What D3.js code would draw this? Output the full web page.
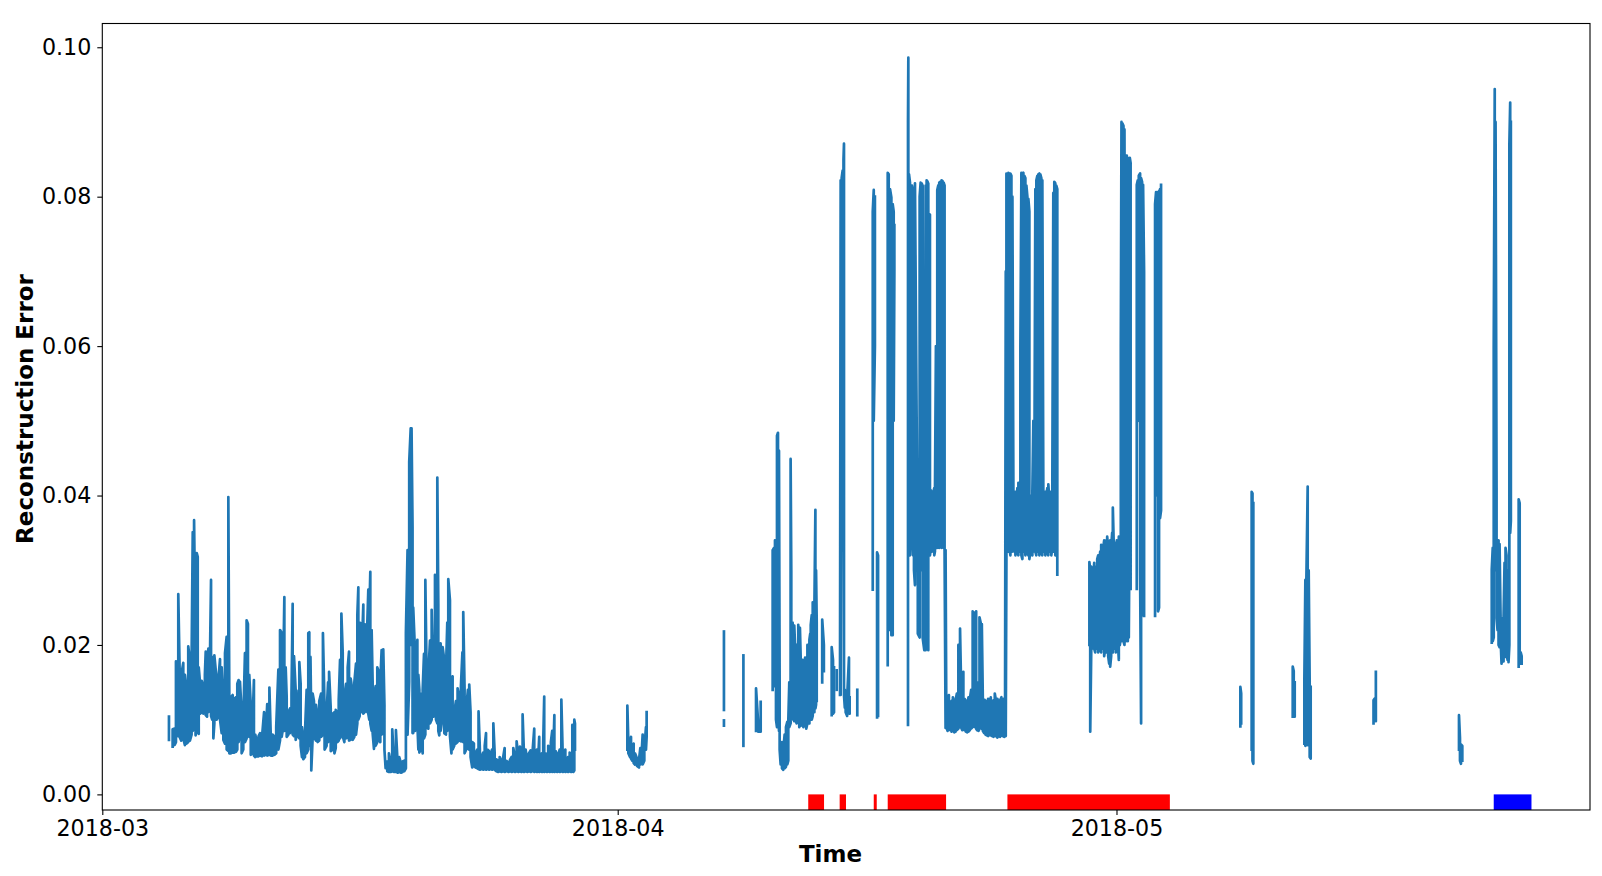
<!DOCTYPE html>
<html>
<head>
<meta charset="utf-8">
<script src="https://cdn.jsdelivr.net/npm/d3@7"></script>
<style>
  html, body { margin: 0; padding: 0; background: #ffffff; }
  svg { display: block; }
  text { font-family: "DejaVu Sans", sans-serif; fill: #000; }
</style>
</head>
<body>
<svg id="chart" width="1602" height="876"></svg>
<script>
// ---------------- DATA ----------------
// time axis: days since 2018-03-01 00:00 UTC
const startDate = Date.UTC(2018, 2, 1);
const xDomainDays = [0, 89.48];
const yDomain = [-0.00209, 0.10318];
const yTickValues = [0.00, 0.02, 0.04, 0.06, 0.08, 0.10];
const xTickDates = ["2018-03-01", "2018-04-01", "2018-05-01"];
const xTickLabels = ["2018-03", "2018-04", "2018-05"];

// reconstruction error, dense signal given as [day, min, max] per time bin
const segMarchA = [[4.01, .0073, .0104]];
const segMarchB = [
 [4.23,.0064,.0087],[4.35,.0066,.0088],[4.43,.0070,.0178],[4.50,.0080,.0150],[4.57,.0078,.0268],
 [4.65,.0077,.0168],[4.75,.0072,.0160],[4.87,.0075,.0176],[4.97,.0066,.0160],[5.07,.0068,.0140],
 [5.17,.0070,.0198],[5.27,.0072,.0180],[5.37,.0080,.0179],[5.44,.0085,.0351],[5.52,.0090,.0367],
 [5.61,.0079,.0200],[5.68,.0085,.0323],[5.74,.0088,.0318],[5.80,.0081,.0170],[5.88,.0108,.0149],
 [5.98,.0110,.0152],[6.08,.0108,.0145],[6.17,.0112,.0160],[6.22,.0106,.0191],[6.30,.0104,.0170],
 [6.38,.0110,.0195],[6.46,.0112,.0158],[6.54,.0105,.0287],[6.61,.0100,.0184],[6.68,.0075,.0150],
 [6.74,.0095,.0186],[6.88,.0100,.0153],[6.98,.0105,.0153],[7.08,.0100,.0181],[7.18,.0082,.0170],
 [7.28,.0073,.0126],[7.38,.0068,.0189],[7.48,.0060,.0211],[7.58,.0058,.0398],[7.64,.0055,.0130],
 [7.74,.0055,.0130],[7.84,.0056,.0133],[7.94,.0056,.0128],[8.04,.0057,.0130],[8.12,.0060,.0148],
 [8.20,.0070,.0153],[8.28,.0080,.0151],[8.38,.0055,.0110],[8.48,.0060,.0099],[8.58,.0070,.0189],
 [8.68,.0075,.0233],[8.76,.0078,.0228],[8.84,.0077,.0160],[8.93,.0053,.0120],[9.02,.0055,.0082],
 [9.12,.0052,.0153],[9.20,.0050,.0080],[9.30,.0051,.0070],[9.40,.0051,.0078],[9.49,.0052,.0082],
 [9.60,.0051,.0075],[9.73,.0052,.0110],[9.82,.0053,.0077],[9.92,.0052,.0121],[10.05,.0053,.0143],
 [10.14,.0052,.0073],[10.25,.0052,.0080],[10.36,.0053,.0077],[10.46,.0055,.0090],[10.59,.0060,.0167],
 [10.69,.0072,.0220],[10.79,.0077,.0216],[10.88,.0090,.0160],[10.95,.0085,.0264],[11.03,.0090,.0170],
 [11.09,.0077,.0130],[11.19,.0080,.0110],[11.29,.0082,.0115],[11.38,.0085,.0135],[11.45,.0080,.0255],
 [11.53,.0078,.0185],[11.63,.0073,.0140],[11.72,.0080,.0105],[11.80,.0078,.0139],[11.85,.0075,.0177],
 [11.93,.0065,.0148],[12.01,.0050,.0090],[12.09,.0047,.0072],[12.19,.0050,.0082],[12.29,.0055,.0140],
 [12.39,.0060,.0216],[12.45,.0065,.0217],[12.52,.0070,.0184],[12.57,.0032,.0100],[12.65,.0075,.0135],
 [12.73,.0077,.0125],[12.85,.0072,.0120],[12.95,.0070,.0105],[13.05,.0072,.0125],[13.16,.0077,.0135],
 [13.27,.0080,.0216],[13.37,.0060,.0115],[13.49,.0065,.0108],[13.58,.0070,.0150],[13.64,.0072,.0164],
 [13.74,.0058,.0115],[13.86,.0060,.0108],[13.96,.0055,.0110],[14.04,.0062,.0113],[14.14,.0070,.0110],
 [14.22,.0072,.0126],[14.30,.0075,.0180],[14.38,.0080,.0242],[14.46,.0078,.0190],[14.56,.0070,.0130],
 [14.66,.0075,.0148],[14.76,.0076,.0170],[14.84,.0072,.0191],[14.94,.0073,.0155],[15.06,.0073,.0137],
 [15.16,.0077,.0150],[15.26,.0080,.0175],[15.34,.0095,.0240],[15.40,.0100,.0277],[15.48,.0105,.0230],
 [15.54,.0113,.0229],[15.62,.0110,.0200],[15.70,.0108,.0254],[15.78,.0110,.0228],[15.86,.0112,.0210],
 [15.94,.0110,.0230],[16.00,.0108,.0274],[16.06,.0100,.0240],[16.12,.0095,.0298],[16.20,.0085,.0220],
 [16.26,.0082,.0150],[16.34,.0061,.0130],[16.44,.0065,.0145],[16.54,.0070,.0170],[16.62,.0075,.0165],
 [16.72,.0070,.0150],[16.80,.0080,.0193],[16.90,.0082,.0194],[16.97,.0060,.0120],[17.04,.0035,.0044],
 [17.14,.0031,.0044],[17.24,.0030,.0055],[17.34,.0030,.0043],[17.44,.0031,.0087],[17.54,.0030,.0045],
 [17.66,.0030,.0086],[17.76,.0029,.0043],[17.86,.0030,.0050],[17.96,.0029,.0042],[18.06,.0030,.0044],
 [18.16,.0031,.0045],[18.26,.0035,.0216],[18.36,.0080,.0327],[18.46,.0150,.0445],[18.55,.0200,.0490],
 [18.60,.0210,.0490],[18.66,.0082,.0358],[18.70,.0082,.0250],[18.81,.0085,.0190],[18.88,.0090,.0180],
 [18.95,.0095,.0207],[19.01,.0060,.0160],[19.07,.0056,.0140],[19.15,.0060,.0115],[19.21,.0065,.0135],
 [19.27,.0055,.0140],[19.35,.0075,.0188],[19.43,.0080,.0287],[19.51,.0090,.0155],[19.61,.0088,.0160],
 [19.71,.0095,.0206],[19.81,.0100,.0247],[19.91,.0104,.0153],[20.01,.0110,.0294],[20.07,.0100,.0140],
 [20.15,.0095,.0424],[20.21,.0085,.0255],[20.27,.0079,.0180],[20.35,.0085,.0202],[20.47,.0104,.0197],
 [20.57,.0082,.0180],[20.67,.0080,.0165],[20.75,.0085,.0230],[20.81,.0090,.0288],[20.91,.0078,.0260],
 [21.00,.0055,.0150],[21.07,.0060,.0158],[21.17,.0065,.0110],[21.27,.0068,.0125],[21.37,.0070,.0142],
 [21.47,.0072,.0130],[21.57,.0071,.0145],[21.66,.0072,.0190],[21.71,.0070,.0244],[21.79,.0055,.0140],
 [21.89,.0060,.0115],[21.99,.0062,.0140],[22.07,.0060,.0147],[22.15,.0050,.0110],[22.25,.0036,.0070],
 [22.35,.0038,.0068],[22.45,.0036,.0055],[22.55,.0035,.0060],[22.63,.0034,.0111],[22.71,.0033,.0060],
 [22.81,.0034,.0050],[22.91,.0033,.0056],[23.00,.0034,.0065],[23.08,.0033,.0082],[23.16,.0034,.0060],
 [23.26,.0033,.0058],[23.36,.0034,.0050],[23.44,.0033,.0060],[23.52,.0034,.0095],[23.60,.0033,.0055],
 [23.70,.0031,.0047],[23.80,.0030,.0045],[23.90,.0031,.0050],[24.00,.0030,.0044],[24.10,.0031,.0048],
 [24.20,.0030,.0062],[24.30,.0031,.0045],[24.42,.0030,.0043],[24.52,.0031,.0046],[24.62,.0030,.0050],
 [24.72,.0031,.0062],[24.82,.0030,.0050],[24.92,.0031,.0071],[25.02,.0030,.0052],[25.12,.0031,.0064],
 [25.20,.0030,.0050],[25.28,.0031,.0107],[25.36,.0030,.0055],[25.46,.0031,.0060],[25.56,.0030,.0045],
 [25.66,.0031,.0055],[25.76,.0030,.0059],[25.86,.0031,.0052],[25.98,.0030,.0088],[26.06,.0031,.0055],
 [26.14,.0030,.0060],[26.22,.0031,.0050],[26.28,.0030,.0077],[26.36,.0031,.0052],[26.44,.0030,.0055],
 [26.52,.0031,.0070],[26.58,.0030,.0131],[26.66,.0031,.0055],[26.74,.0030,.0052],[26.82,.0031,.0065],
 [26.90,.0030,.0060],[26.98,.0031,.0070],[27.06,.0030,.0085],[27.13,.0031,.0060],[27.19,.0030,.0106],
 [27.27,.0031,.0058],[27.35,.0030,.0052],[27.43,.0031,.0054],[27.51,.0030,.0060],[27.61,.0031,.0127],
 [27.69,.0030,.0055],[27.77,.0031,.0050],[27.85,.0030,.0060],[27.93,.0031,.0044],[28.01,.0030,.0050],
 [28.11,.0031,.0056],[28.19,.0030,.0050],[28.27,.0031,.0093],[28.33,.0030,.0050],[28.39,.0032,.0100],
 [28.43,.0060,.0095]
];
const segAprilA = [
 [31.58,.0060,.0119],[31.64,.0055,.0070],[31.74,.0050,.0062],[31.80,.0048,.0077],[31.88,.0045,.0058],
 [31.96,.0042,.0068],[32.04,.0040,.0055],[32.16,.0038,.0048],[32.28,.0036,.0046],[32.36,.0040,.0062],
 [32.44,.0042,.0055],[32.50,.0040,.0080],[32.60,.0045,.0060],[32.70,.0060,.0090],[32.74,.0077,.0110]
];
const segAprilB = [[37.39, .0113, .0218]];
const segAprilC = [[37.39, .0092, .0099]];
const segAprilD = [[38.56, .0065, .0186]];
const segAprilE = [[39.32,.0085,.0142],[39.45,.0084,.0095],[39.60,.0084,.0124]];
const segAprilF = [
 [40.32,.0140,.0327],[40.40,.0145,.0330],[40.46,.0160,.0340],[40.52,.0100,.0300],[40.58,.0090,.0480],
 [40.64,.0150,.0484],[40.70,.0085,.0460],[40.74,.0060,.0150],[40.80,.0040,.0060],[40.88,.0035,.0070],
 [40.96,.0033,.0060],[41.04,.0035,.0080],[41.12,.0037,.0090],[41.20,.0040,.0097],[41.26,.0045,.0098],
 [41.32,.0090,.0150],[41.40,.0095,.0449],[41.44,.0100,.0300],[41.52,.0105,.0230],[41.58,.0100,.0200],
 [41.62,.0098,.0226],[41.70,.0100,.0180],[41.76,.0095,.0200],[41.82,.0100,.0160],[41.86,.0098,.0227],
 [41.92,.0090,.0190],[41.96,.0095,.0223],[42.02,.0092,.0170],[42.06,.0100,.0146],[42.12,.0095,.0180],
 [42.17,.0090,.0166],[42.22,.0094,.0175],[42.27,.0092,.0183],[42.34,.0088,.0170],[42.41,.0095,.0200],
 [42.47,.0098,.0185],[42.53,.0095,.0207],[42.58,.0100,.0215],[42.61,.0105,.0227],[42.67,.0100,.0240],
 [42.73,.0105,.0257],[42.78,.0110,.0250],[42.83,.0110,.0250],[42.89,.0115,.0381],[42.93,.0120,.0300],
 [42.97,.0125,.0230]
];
const segAprilG = [[43.30,.0150,.0234],[43.40,.0165,.0200]];
const segAprilH = [[43.87,.0106,.0197],[43.95,.0108,.0180],[44.01,.0110,.0170]];
const segAprilI = [[44.17,.0140,.0166]];
const segAprilJ = [
 [44.37,.0133,.0140],[44.41,.0133,.0822],[44.47,.0450,.0825],[44.53,.0400,.0835],[44.58,.0450,.0850],
 [44.61,.0133,.0871],[44.66,.0116,.0140],[44.71,.0110,.0125],[44.80,.0105,.0130],[44.91,.0110,.0183],
 [44.95,.0108,.0130]
];
const segAprilK = [[45.41,.0106,.0140]];
const segAprilL = [[46.34,.0274,.0780],[46.40,.0500,.0809],[46.47,.0600,.0800]];
const segAprilM = [[46.60,.0103,.0324],[46.66,.0105,.0320]];
const segAprilN = [
 [47.24,.0173,.0832],[47.30,.0400,.0830],[47.38,.0220,.0810],[47.46,.0213,.0799],[47.54,.0213,.0790],
 [47.60,.0500,.0780],[47.64,.0700,.0762]
];
const segAprilO = [
 [48.46,.0093,.0900],[48.48,.0500,.0986],[48.52,.0320,.0830],[48.58,.0320,.0819],[48.64,.0350,.0815],
 [48.70,.0550,.0815],[48.76,.0320,.0812],[48.82,.0300,.0810],[48.88,.0280,.0818],[49.05,.0215,.0280],
 [49.16,.0210,.0800],[49.22,.0300,.0819],[49.28,.0350,.0818],[49.34,.0210,.0815],[49.44,.0193,.0250],
 [49.52,.0193,.0815],[49.58,.0300,.0822],[49.64,.0350,.0820],[49.68,.0193,.0818],
 [49.70,.0320,.0400],[49.74,.0330,.0600],[49.78,.0320,.0776],[49.84,.0330,.0407],[49.90,.0325,.0395],
 [49.98,.0330,.0404],[50.04,.0320,.0410],[50.08,.0325,.0398],[50.14,.0330,.0600],[50.22,.0330,.0809],
 [50.28,.0340,.0815],[50.34,.0330,.0819],[50.40,.0335,.0820],[50.48,.0330,.0822],[50.54,.0340,.0821],
 [50.60,.0330,.0819],[50.66,.0325,.0815],[50.72,.0089,.0327],
 [50.76,.0090,.0130],[50.84,.0085,.0128],[50.92,.0088,.0133],[51.00,.0086,.0120],[51.08,.0084,.0125],
 [51.16,.0085,.0130],[51.24,.0083,.0118],[51.32,.0084,.0126],[51.40,.0086,.0135],[51.49,.0088,.0200],
 [51.55,.0090,.0180],[51.59,.0092,.0222],[51.65,.0090,.0150],[51.72,.0086,.0130],[51.79,.0088,.0164],
 [51.86,.0086,.0128],[51.94,.0084,.0125],[52.02,.0083,.0120],[52.10,.0084,.0130],[52.18,.0086,.0128],
 [52.26,.0088,.0140],[52.35,.0090,.0245],[52.43,.0092,.0243],[52.50,.0090,.0180],[52.56,.0088,.0245],
 [52.62,.0086,.0150],[52.70,.0085,.0140],[52.76,.0088,.0237],[52.83,.0090,.0230],[52.90,.0088,.0228],
 [52.96,.0085,.0130],[53.04,.0082,.0127],[53.12,.0080,.0125],[53.20,.0079,.0120],[53.28,.0078,.0128],
 [53.36,.0080,.0122],[53.44,.0079,.0130],[53.52,.0078,.0118],[53.60,.0077,.0126],[53.68,.0079,.0135],
 [53.76,.0078,.0124],[53.84,.0076,.0128],[53.92,.0078,.0120],[54.00,.0077,.0126],[54.08,.0079,.0130],
 [54.16,.0078,.0122],[54.24,.0077,.0128],[54.30,.0078,.0146],
 [54.34,.0078,.0700],[54.38,.0320,.0831],[54.44,.0330,.0825],[54.50,.0325,.0832],[54.56,.0330,.0830],
 [54.62,.0320,.0831],[54.68,.0330,.0828],[54.74,.0325,.0800],[54.80,.0330,.0400],[54.86,.0325,.0395],
 [54.92,.0320,.0405],[54.98,.0330,.0390],[55.04,.0325,.0410],[55.10,.0320,.0417],[55.16,.0330,.0395],
 [55.22,.0325,.0600],[55.28,.0320,.0832],[55.34,.0315,.0830],[55.40,.0325,.0832],[55.46,.0330,.0828],
 [55.52,.0320,.0825],[55.58,.0325,.0815],[55.64,.0330,.0800],[55.70,.0320,.0797],[55.76,.0315,.0780],
 [55.82,.0325,.0400],[55.88,.0330,.0395],[55.94,.0320,.0405],[56.00,.0325,.0500],[56.06,.0330,.0417],
 [56.12,.0325,.0810],[56.18,.0320,.0822],[56.24,.0330,.0828],[56.30,.0325,.0830],[56.36,.0320,.0831],
 [56.42,.0330,.0830],[56.48,.0325,.0825],[56.54,.0320,.0822],[56.60,.0330,.0400],[56.66,.0325,.0395],
 [56.72,.0320,.0405],[56.78,.0330,.0400],[56.84,.0325,.0410],[56.90,.0320,.0415],[56.96,.0330,.0395],
 [57.02,.0325,.0405],[57.08,.0320,.0400],[57.14,.0330,.0410],[57.20,.0325,.0805],[57.26,.0330,.0820],
 [57.32,.0320,.0818],[57.38,.0325,.0815],[57.44,.0294,.0810]
];
const segAprilP = [
 [59.37,.0200,.0311],[59.42,.0084,.0300],[59.48,.0190,.0305],[59.54,.0195,.0300],[59.60,.0200,.0290],
 [59.66,.0195,.0310],[59.72,.0190,.0305],[59.78,.0200,.0295],[59.84,.0195,.0315],[59.90,.0190,.0320],
 [59.96,.0200,.0310],[60.02,.0195,.0325],[60.08,.0190,.0334],[60.14,.0200,.0320],[60.20,.0195,.0330],
 [60.26,.0185,.0340],[60.32,.0195,.0325],[60.38,.0190,.0340],[60.44,.0200,.0345],[60.50,.0185,.0330],
 [60.56,.0175,.0335],[60.62,.0171,.0340],[60.68,.0185,.0330],[60.74,.0195,.0350],[60.78,.0190,.0384],
 [60.84,.0195,.0330],[60.90,.0200,.0337],[60.96,.0190,.0330],[61.02,.0195,.0340],[61.08,.0205,.0335],
 [61.14,.0180,.0345],[61.20,.0200,.0330],[61.26,.0210,.0600],[61.30,.0205,.0900],[61.36,.0210,.0898],
 [61.42,.0205,.0895],[61.48,.0200,.0890],[61.52,.0210,.0500],[61.56,.0205,.0855],[61.62,.0210,.0855],
 [61.68,.0205,.0852],[61.74,.0210,.0850],[61.80,.0400,.0852],[61.85,.0275,.0845]
];
const segAprilQ = [
 [62.22,.0275,.0816],[62.28,.0600,.0822],[62.34,.0500,.0828],[62.42,.0300,.0831],[62.48,.0095,.0825],
 [62.54,.0240,.0820],[62.60,.0250,.0816],[62.66,.0239,.0700]
];
const segAprilR = [
 [63.32,.0239,.0790],[63.38,.0400,.0806],[63.44,.0500,.0806],[63.50,.0245,.0806],[63.56,.0250,.0806],
 [63.62,.0370,.0810],[63.68,.0380,.0816]
];
const segMayA = [[68.45,.0091,.0144],[68.50,.0095,.0135]];
const segMayB = [[69.13,.0060,.0405],[69.18,.0045,.0403],[69.23,.0041,.0390]];
const segMayC = [[71.60,.0104,.0171],[71.66,.0108,.0165],[71.72,.0104,.0150]];
const segMayD = [
 [72.30,.0068,.0155],[72.36,.0065,.0287],[72.42,.0070,.0287],[72.50,.0066,.0412],[72.56,.0070,.0300],
 [72.62,.0050,.0150],[72.68,.0048,.0144]
];
const segMayE = [[76.46,.0095,.0126],[76.52,.0100,.0128],[76.60,.0098,.0164]];
const segMayF = [[81.60,.0060,.0106],[81.66,.0045,.0075],[81.72,.0041,.0067],[81.80,.0045,.0065]];
const segMayG = [
 [83.57,.0203,.0301],[83.63,.0205,.0330],[83.69,.0210,.0600],[83.75,.0400,.0944],[83.80,.0300,.0900],
 [83.86,.0236,.0410],[83.92,.0220,.0330],[83.98,.0200,.0340],[84.04,.0197,.0335],[84.10,.0210,.0240],
 [84.16,.0175,.0236],[84.22,.0180,.0230],[84.28,.0178,.0235],[84.34,.0190,.0310],[84.40,.0184,.0330],
 [84.46,.0190,.0320],[84.52,.0180,.0250],[84.58,.0177,.0300],[84.63,.0200,.0870],[84.68,.0350,.0926],
 [84.72,.0366,.0900]
];
const segMayH = [[85.19,.0171,.0395],[85.25,.0175,.0390],[85.31,.0180,.0190],[85.37,.0175,.0185]];

const segments = [segMarchA, segMarchB, segAprilA, segAprilB, segAprilC, segAprilD, segAprilE,
  segAprilF, segAprilG, segAprilH, segAprilI, segAprilJ, segAprilK, segAprilL, segAprilM, segAprilN,
  segAprilO, segAprilP, segAprilQ, segAprilR, segMayA, segMayB, segMayC, segMayD, segMayE, segMayF,
  segMayG, segMayH];

// flagged intervals (days) shown as bars under the zero line
const redIntervals = [[42.46, 43.41], [44.35, 44.73], [46.40, 46.58], [47.24, 50.75], [54.44, 64.21]];
const blueIntervals = [[83.69, 85.96]];

// ---------------- CHART ----------------
(function () {
const DAY = 864e5;
const toDate = d => new Date(startDate + d * DAY);

const pLeft = 102.3, pRight = 1590, pTop = 23.5, pBottom = 810;
const svg = d3.select("#chart");
svg.append("rect").attr("width", 1602).attr("height", 876).attr("fill", "#fff");

const x = d3.scaleUtc().domain(xDomainDays.map(toDate)).range([pLeft, pRight]);
const y = d3.scaleLinear().domain(yDomain).range([pBottom, pTop]);

svg.append("defs").append("clipPath").attr("id", "clip")
  .append("rect").attr("x", pLeft).attr("y", pTop).attr("width", pRight - pLeft).attr("height", pBottom - pTop);

const plot = svg.append("g").attr("clip-path", "url(#clip)");

// bars
const barGroup = plot.append("g");
barGroup.selectAll("rect.red").data(redIntervals).join("rect")
  .attr("class", "red")
  .attr("x", d => x(toDate(d[0])))
  .attr("width", d => x(toDate(d[1])) - x(toDate(d[0])))
  .attr("y", y(0))
  .attr("height", y(yDomain[0]) - y(0))
  .attr("fill", "#ff0000");
barGroup.selectAll("rect.blue").data(blueIntervals).join("rect")
  .attr("class", "blue")
  .attr("x", d => x(toDate(d[0])))
  .attr("width", d => x(toDate(d[1])) - x(toDate(d[0])))
  .attr("y", y(0))
  .attr("height", y(yDomain[0]) - y(0))
  .attr("fill", "#0000ff");

// line: each bin visited min->max or max->min alternately (dense signal)
const line = d3.line().x(p => x(toDate(p[0]))).y(p => y(p[1]));
function binsToPoints(seg) {
  const pts = [];
  seg.forEach((b, i) => {
    if (i % 2 === 0) { pts.push([b[0], b[1]]); pts.push([b[0], b[2]]); }
    else { pts.push([b[0], b[2]]); pts.push([b[0], b[1]]); }
  });
  return pts;
}
plot.append("g").selectAll("path").data(segments).join("path")
  .attr("d", s => line(binsToPoints(s)))
  .attr("fill", "none")
  .attr("stroke", "#1f77b4")
  .attr("stroke-width", 2.7)
  .attr("stroke-linejoin", "round")
  .attr("stroke-linecap", "square");

// axes
const fontSize = 22.2;
const yAxis = d3.axisLeft(y).tickValues(yTickValues).tickFormat(d3.format(".2f"))
  .tickSize(5).tickSizeOuter(0).tickPadding(6);
const gy = svg.append("g").attr("transform", `translate(${pLeft},0)`).call(yAxis);
gy.select(".domain").remove();
gy.selectAll("text").attr("font-size", fontSize).attr("font-family", "DejaVu Sans").attr("fill", "#000");
gy.selectAll("line").attr("stroke", "#000").attr("stroke-width", 1.1);

const xAxis = d3.axisBottom(x).tickValues(xTickDates.map(s => new Date(s + "T00:00:00Z")))
  .tickFormat((d, i) => xTickLabels[i]).tickSize(5).tickSizeOuter(0).tickPadding(5);
const gx = svg.append("g").attr("transform", `translate(0,${pBottom})`).call(xAxis);
gx.select(".domain").remove();
gx.selectAll("text").attr("font-size", fontSize).attr("font-family", "DejaVu Sans").attr("fill", "#000");
gx.selectAll("line").attr("stroke", "#000").attr("stroke-width", 1.1);

// frame
svg.append("rect").attr("x", pLeft).attr("y", pTop).attr("width", pRight - pLeft).attr("height", pBottom - pTop)
  .attr("fill", "none").attr("stroke", "#000").attr("stroke-width", 1.1);

// labels
svg.append("text").attr("x", 830.5).attr("y", 861.7).attr("text-anchor", "middle")
  .attr("font-size", 23).attr("font-weight", "bold").text("Time");
svg.append("text").attr("transform", "translate(32.5,409) rotate(-90)").attr("text-anchor", "middle")
  .attr("font-size", 23).attr("font-weight", "bold").text("Reconstruction Error");
})();
</script>
</body>
</html>
